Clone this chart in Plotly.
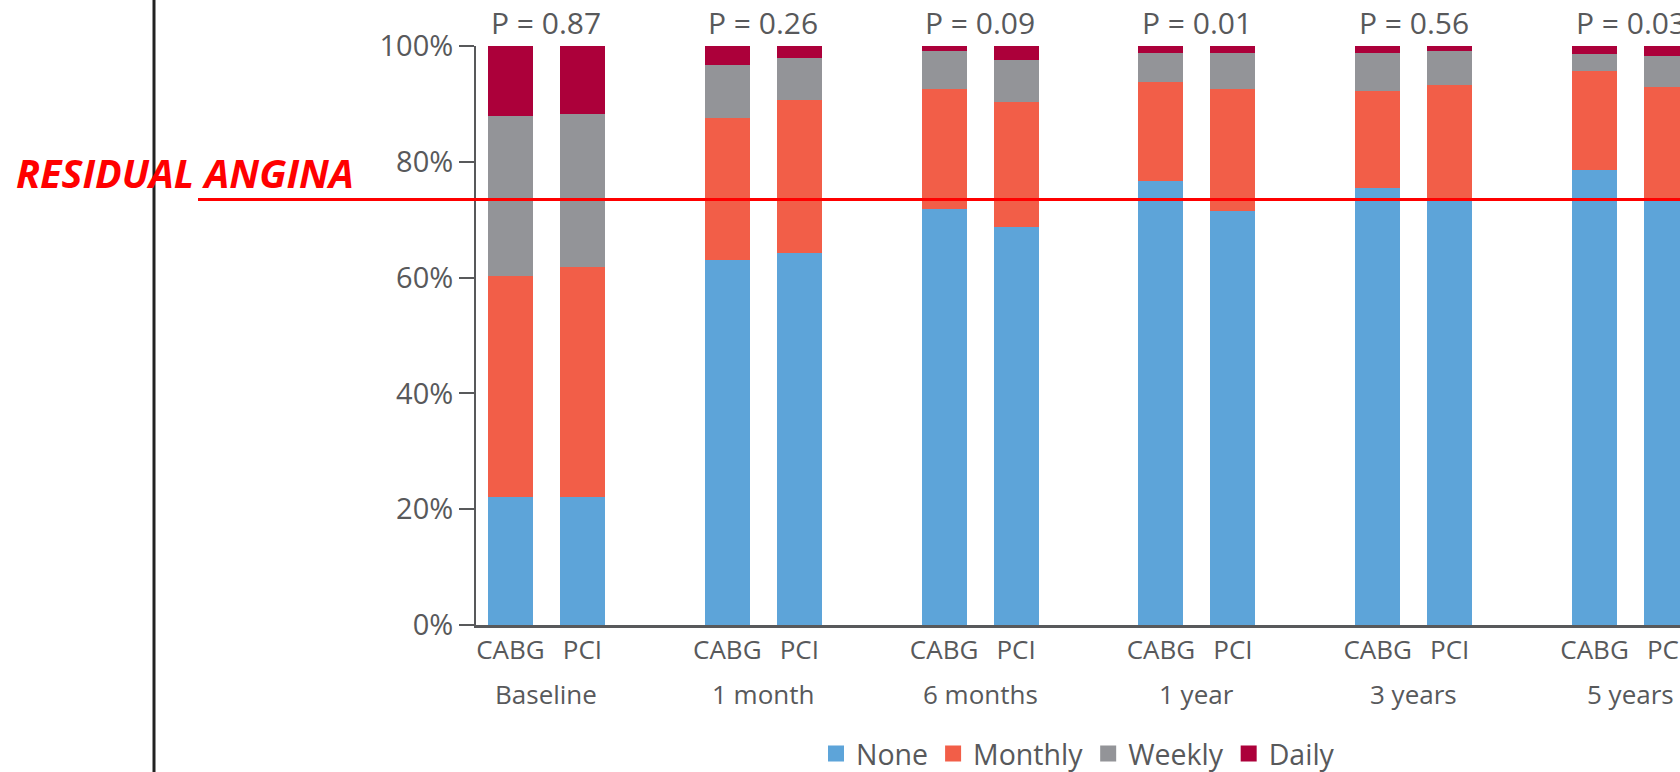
import plotly.graph_objects as go

# Angina frequency (%) by follow-up visit, CABG vs PCI
visits = ["Baseline", "1 month", "6 months", "1 year", "3 years", "5 years"]
arms = ["CABG", "PCI"]
p_values = ["0.87", "0.26", "0.09", "0.01", "0.56", "0.03"]
y_ticks = [0, 20, 40, 60, 80, 100]

# one value per bar, ordered CABG, PCI for each visit
none_pct = [22.1, 22.1, 63.0, 64.2, 71.9, 68.8, 76.6, 71.5, 75.4, 73.5, 78.5, 73.5]
monthly_pct = [38.1, 39.8, 24.5, 26.4, 20.7, 21.5, 17.1, 21.1, 16.8, 19.8, 17.1, 19.5]
weekly_pct = [27.7, 26.3, 9.3, 7.4, 6.5, 7.3, 5.1, 6.2, 6.6, 5.8, 3.1, 5.3]
daily_pct = [12.1, 11.8, 3.2, 2.0, 0.9, 2.4, 1.2, 1.2, 1.2, 0.9, 1.3, 1.7]

residual_threshold = 73.5

series = [
    ("None", none_pct, "#5da4d9"),
    ("Monthly", monthly_pct, "#f25e48"),
    ("Weekly", weekly_pct, "#939498"),
    ("Daily", daily_pct, "#ac003a"),
]

TEXT = "#58595b"
FONT = "Open Sans"

# figure geometry (pixels)
W, H = 1680, 772
L, R, T, B = 476, 0, 46, 147
PW, PH = W - L - R, H - T - B


def px_x(p):
    return (p - L) / PW


def px_y(p):
    return (H - B - p) / PH


offset, bar_w = 0.166, 0.207
xpos = []
for i in range(len(visits)):
    xpos += [i - offset, i + offset]

fig = go.Figure()
for name, vals, color in series:
    fig.add_trace(go.Bar(
        x=xpos, y=vals, width=bar_w, name=name,
        marker=dict(color=color, line=dict(width=0)),
        showlegend=False,
    ))
for name, vals, color in series:
    fig.add_trace(go.Scatter(
        x=[None], y=[None], mode="markers", name=name,
        marker=dict(symbol="square", size=19, color=color),
    ))

annotations = []
for i, p in enumerate(p_values):
    annotations.append(dict(
        x=i, y=px_y(22), xref="x", yref="paper", text=f"P = {p}",
        showarrow=False, xanchor="center", yanchor="middle",
        font=dict(family=FONT, size=30, color=TEXT),
    ))
    annotations.append(dict(
        x=i, y=px_y(694), xref="x", yref="paper", text=visits[i],
        showarrow=False, xanchor="center", yanchor="middle",
        font=dict(family=FONT, size=26, color=TEXT),
    ))
annotations.append(dict(
    x=px_x(14), y=px_y(173), xref="paper", yref="paper", text="<b><i>RESIDUAL ANGINA</i></b>",
    showarrow=False, xanchor="left", yanchor="middle",
    font=dict(family=FONT, size=39.5, color="#ff0000"),
))

shapes = [
    dict(type="line", xref="paper", yref="paper", x0=px_x(154), x1=px_x(154),
         y0=-0.4, y1=1.3, line=dict(color="#222222", width=3)),
    dict(type="line", xref="paper", yref="y", x0=px_x(198), x1=1.02,
         y0=residual_threshold, y1=residual_threshold,
         line=dict(color="#ff0000", width=3), layer="above"),
]

fig.update_layout(
    width=W, height=H,
    margin=dict(l=L, r=R, t=T, b=B, pad=0, autoexpand=False),
    paper_bgcolor="white", plot_bgcolor="white",
    barmode="stack", bargap=0,
    font=dict(family=FONT, color=TEXT),
    annotations=annotations, shapes=shapes,
    legend=dict(
        orientation="h", traceorder="normal",
        x=0.5, xanchor="center", y=px_y(754), yanchor="middle",
        font=dict(family=FONT, size=28.5, color=TEXT), itemwidth=30,
        bgcolor="rgba(0,0,0,0)",
    ),
    xaxis=dict(
        range=[-0.325, 5.228], tickvals=xpos, ticktext=arms * len(visits),
        showline=True, linecolor=TEXT, linewidth=2.5, ticks="",
        ticklabeloverflow="allow", automargin=False,
        showgrid=False, zeroline=False,
        tickfont=dict(family=FONT, size=26, color=TEXT),
    ),
    yaxis=dict(
        range=[0, 100], tickvals=y_ticks, ticktext=[f"{v}%" for v in y_ticks],
        showline=True, linecolor=TEXT, linewidth=2, ticks="outside",
        ticklen=15, tickwidth=2, tickcolor=TEXT, automargin=False,
        showgrid=False, zeroline=False,
        tickfont=dict(family=FONT, size=29, color=TEXT),
    ),
)

fig.write_html("out.html")
